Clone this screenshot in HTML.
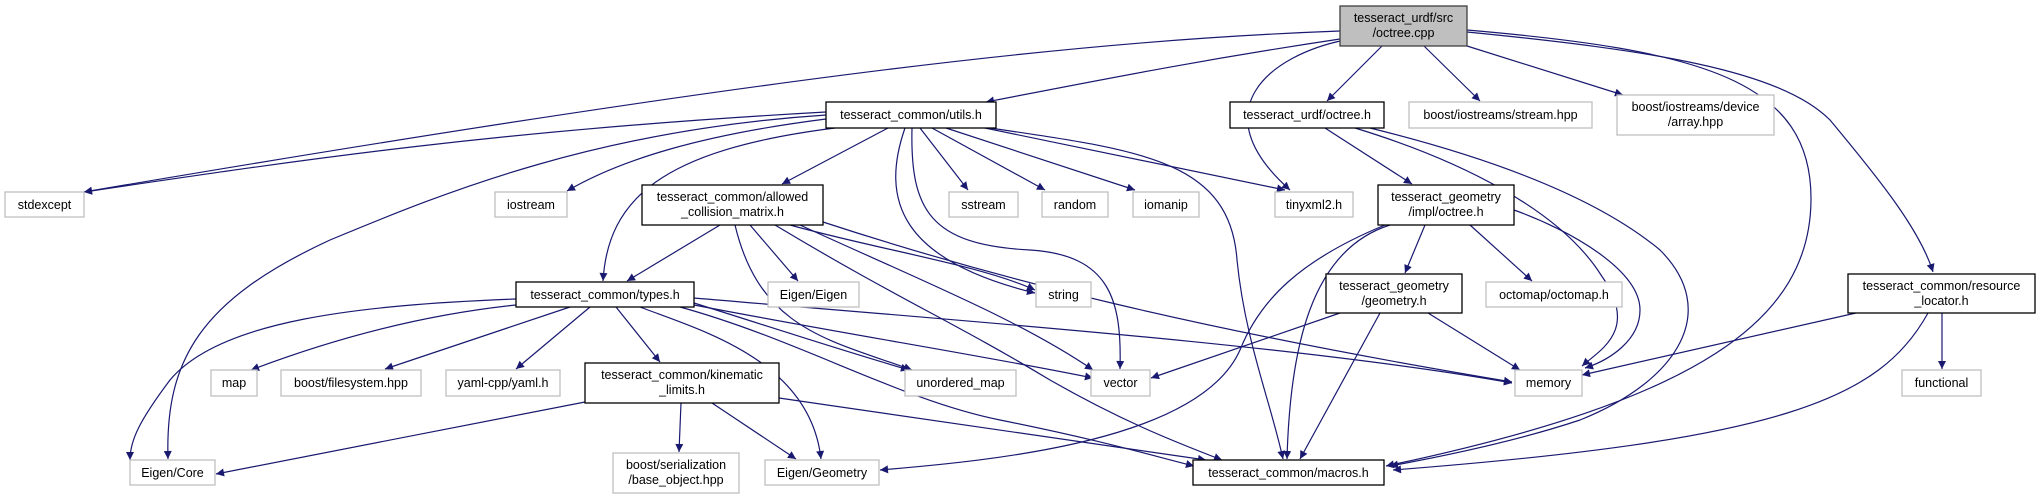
<!DOCTYPE html>
<html><head><meta charset="utf-8"><style>
html,body{margin:0;padding:0;background:#fff}
svg{display:block}
text{font-family:"Liberation Sans",sans-serif;font-size:12.5px;fill:#000}
.e{fill:none;stroke:#191970;stroke-width:1.2}
.n{fill:#fff;stroke:#000;stroke-width:1.3}
.g{fill:#fff;stroke:#bfbfbf;stroke-width:1.3}
</style></head><body>
<svg width="2041" height="499" viewBox="0 0 2041 499" xmlns="http://www.w3.org/2000/svg">
<defs><marker id="a" viewBox="0 0 10 10" refX="10" refY="5" markerWidth="10" markerHeight="8" markerUnits="userSpaceOnUse" orient="auto"><path d="M0,0 L10,5 L0,10 z" fill="#191970"/></marker></defs>
<g marker-end="url(#a)">
<!-- from cpp -->
<path class="e" d="M1340,31 C1100,40 800,70 84,192"/>
<path class="e" d="M1340,39 C1200,60 1100,80 986,102"/>
<path class="e" d="M1345,40 C1270,55 1200,110 1290,190"/>
<path class="e" d="M1382,46 L1327,101"/>
<path class="e" d="M1424,46 L1480,101"/>
<path class="e" d="M1467,46 L1623,95"/>
<path class="e" d="M1467,30 C1700,50 1812,80 1811,200 C1810,320 1700,400 1386,466"/>
<path class="e" d="M1467,32 C1650,50 1780,70 1830,120 C1880,180 1920,230 1933,272"/>
<!-- from utils -->
<path class="e" d="M826,112 C500,130 300,160 84,192"/>
<path class="e" d="M826,119 C700,135 620,160 567,191"/>
<path class="e" d="M826,115 C600,130 450,190 330,240 C200,300 165,360 168,459"/>
<path class="e" d="M835,128 C660,150 608,200 603,281"/>
<path class="e" d="M888,128 L782,184"/>
<path class="e" d="M905,128 C880,200 900,260 1035,293"/>
<path class="e" d="M912,128 C910,210 930,245 1030,250 C1110,255 1122,300 1120,369"/>
<path class="e" d="M920,128 L968,190"/>
<path class="e" d="M932,128 L1045,190"/>
<path class="e" d="M946,128 L1135,190"/>
<path class="e" d="M980,127 L1285,190"/>
<path class="e" d="M990,128 C1140,150 1230,160 1237,260 C1245,340 1270,400 1283,459"/>
<!-- from acm -->
<path class="e" d="M720,225 L627,281"/>
<path class="e" d="M750,225 L798,281"/>
<path class="e" d="M790,225 C880,250 980,265 1035,290"/>
<path class="e" d="M735,225 C760,330 830,340 912,370"/>
<path class="e" d="M800,225 C920,280 1020,320 1093,370"/>
<path class="e" d="M775,225 C900,300 950,320 1050,380 C1120,420 1170,440 1222,460"/>
<path class="e" d="M823,222 C1000,280 1200,330 1512,382"/>
<!-- from types -->
<path class="e" d="M516,299 C360,305 220,320 170,380 C140,420 130,440 130,460"/>
<path class="e" d="M516,305 C420,315 330,340 251,370"/>
<path class="e" d="M570,307 L385,369"/>
<path class="e" d="M590,307 L516,369"/>
<path class="e" d="M616,307 L660,362"/>
<path class="e" d="M640,307 C700,330 810,360 821,459"/>
<path class="e" d="M694,303 C780,330 840,350 909,370"/>
<path class="e" d="M694,305 C850,335 980,355 1093,378"/>
<path class="e" d="M694,298 C950,320 1300,345 1512,383"/>
<path class="e" d="M680,307 C800,340 900,400 1000,420 C1100,440 1150,455 1194,466"/>
<!-- from kinematic -->
<path class="e" d="M585,402 L216,474"/>
<path class="e" d="M681,403 L679,452"/>
<path class="e" d="M712,403 L796,459"/>
<path class="e" d="M779,398 L1206,460"/>
<!-- from urdf octree -->
<path class="e" d="M1325,128 L1412,184"/>
<path class="e" d="M1355,128 C1460,160 1560,210 1601,275 C1640,330 1600,350 1582,366"/>
<path class="e" d="M1370,128 C1500,160 1600,200 1660,250 C1720,310 1680,380 1580,420 C1520,440 1450,455 1390,466"/>
<!-- from impl octree -->
<path class="e" d="M1425,225 L1405,273"/>
<path class="e" d="M1470,225 L1532,281"/>
<path class="e" d="M1514,210 C1570,230 1640,270 1640,310 C1640,340 1610,360 1585,368"/>
<path class="e" d="M1385,225 C1300,260 1260,300 1240,350 C1200,440 1000,460 880,470"/>
<path class="e" d="M1390,225 C1310,250 1290,350 1287,459"/>
<!-- from geometry -->
<path class="e" d="M1340,313 L1151,378"/>
<path class="e" d="M1380,313 L1300,459"/>
<path class="e" d="M1428,313 L1520,370"/>
<!-- from resource locator -->
<path class="e" d="M1856,313 L1582,375"/>
<path class="e" d="M1942,313 L1942,369"/>
<path class="e" d="M1928,313 C1880,400 1780,440 1393,470"/>
</g>
<!-- nodes -->
<rect x="1340" y="6" width="127" height="40" fill="#bfbfbf" stroke="#404040" stroke-width="1.3"/>
<text x="1403.5" y="22" text-anchor="middle">tesseract_urdf/src</text><text x="1403.5" y="37" text-anchor="middle">/octree.cpp</text>

<rect class="n" x="826" y="102" width="170" height="26"/><text x="911" y="119" text-anchor="middle">tesseract_common/utils.h</text>
<rect class="n" x="1230" y="102" width="154" height="26"/><text x="1307" y="119" text-anchor="middle">tesseract_urdf/octree.h</text>
<rect class="g" x="1409" y="102" width="183" height="26"/><text x="1500.5" y="119" text-anchor="middle">boost/iostreams/stream.hpp</text>
<rect class="g" x="1617" y="95" width="157" height="40"/><text x="1695.5" y="111" text-anchor="middle">boost/iostreams/device</text><text x="1695.5" y="126" text-anchor="middle">/array.hpp</text>

<rect class="g" x="5" y="192" width="79" height="25"/><text x="44.5" y="209" text-anchor="middle">stdexcept</text>
<rect class="g" x="495" y="192" width="72" height="25"/><text x="531" y="209" text-anchor="middle">iostream</text>
<rect class="n" x="642" y="185" width="181" height="40"/><text x="732.5" y="201" text-anchor="middle">tesseract_common/allowed</text><text x="732.5" y="216" text-anchor="middle">_collision_matrix.h</text>
<rect class="g" x="949" y="192" width="69" height="25"/><text x="983.5" y="209" text-anchor="middle">sstream</text>
<rect class="g" x="1042" y="192" width="66" height="25"/><text x="1075" y="209" text-anchor="middle">random</text>
<rect class="g" x="1133" y="192" width="66" height="25"/><text x="1166" y="209" text-anchor="middle">iomanip</text>
<rect class="g" x="1275" y="192" width="78" height="25"/><text x="1314" y="209" text-anchor="middle">tinyxml2.h</text>
<rect class="n" x="1378" y="185" width="136" height="40"/><text x="1446" y="201" text-anchor="middle">tesseract_geometry</text><text x="1446" y="216" text-anchor="middle">/impl/octree.h</text>

<rect class="n" x="516" y="282" width="178" height="25"/><text x="605" y="299" text-anchor="middle">tesseract_common/types.h</text>
<rect class="g" x="768" y="282" width="91" height="25"/><text x="813.5" y="299" text-anchor="middle">Eigen/Eigen</text>
<rect class="g" x="1036" y="282" width="55" height="25"/><text x="1063.5" y="299" text-anchor="middle">string</text>
<rect class="n" x="1326" y="274" width="136" height="39"/><text x="1394" y="290" text-anchor="middle">tesseract_geometry</text><text x="1394" y="305" text-anchor="middle">/geometry.h</text>
<rect class="g" x="1486" y="282" width="136" height="25"/><text x="1554" y="299" text-anchor="middle">octomap/octomap.h</text>
<rect class="n" x="1848" y="274" width="187" height="39"/><text x="1941.5" y="290" text-anchor="middle">tesseract_common/resource</text><text x="1941.5" y="305" text-anchor="middle">_locator.h</text>

<rect class="g" x="211" y="370" width="46" height="26"/><text x="234" y="387" text-anchor="middle">map</text>
<rect class="g" x="281" y="370" width="140" height="26"/><text x="351" y="387" text-anchor="middle">boost/filesystem.hpp</text>
<rect class="g" x="446" y="370" width="114" height="26"/><text x="503" y="387" text-anchor="middle">yaml-cpp/yaml.h</text>
<rect class="n" x="585" y="363" width="194" height="40"/><text x="682" y="379" text-anchor="middle">tesseract_common/kinematic</text><text x="682" y="394" text-anchor="middle">_limits.h</text>
<rect class="g" x="905" y="370" width="111" height="26"/><text x="960.5" y="387" text-anchor="middle">unordered_map</text>
<rect class="g" x="1091" y="370" width="59" height="26"/><text x="1120.5" y="387" text-anchor="middle">vector</text>
<rect class="g" x="1515" y="370" width="67" height="26"/><text x="1548.5" y="387" text-anchor="middle">memory</text>
<rect class="g" x="1902" y="370" width="79" height="26"/><text x="1941.5" y="387" text-anchor="middle">functional</text>

<rect class="g" x="130" y="460" width="85" height="25"/><text x="172.5" y="477" text-anchor="middle">Eigen/Core</text>
<rect class="g" x="613" y="453" width="126" height="40"/><text x="676" y="469" text-anchor="middle">boost/serialization</text><text x="676" y="484" text-anchor="middle">/base_object.hpp</text>
<rect class="g" x="765" y="460" width="114" height="25"/><text x="822" y="477" text-anchor="middle">Eigen/Geometry</text>
<rect class="n" x="1193" y="460" width="191" height="25"/><text x="1288.5" y="477" text-anchor="middle">tesseract_common/macros.h</text>
</svg>
</body></html>
